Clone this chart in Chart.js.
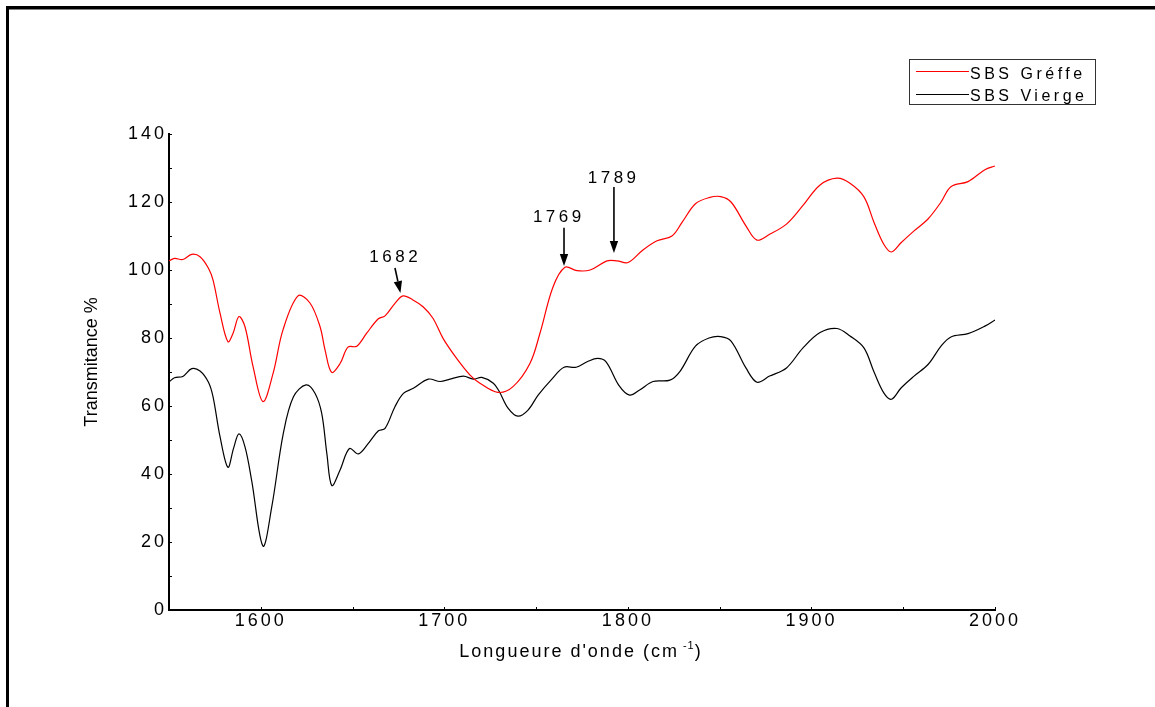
<!DOCTYPE html>
<html>
<head>
<meta charset="utf-8">
<script src="https://cdn.jsdelivr.net/npm/chart.js@4"></script>
<style>
  html, body { margin: 0; padding: 0; background: #fff; }
  #wrap { width: 1155px; height: 707px; position: relative; }
</style>
</head>
<body>
<div id="wrap"><canvas id="c" width="1155" height="707"></canvas></div>
<script>
// ---- Data ----
const wavenumbersGreffe = [1550,1553,1557.5,1562.4,1566.9,1571.5,1574,1577.8,1582.1,1584.9,1588.1,1591.4,1595.8,1601.2,1606.7,1612.1,1620.3,1626.8,1632.3,1635,1638.6,1643.2,1647.5,1652.3,1657.7,1663.9,1667.7,1673.1,1677.5,1682.9,1688.4,1693.8,1699.3,1706.7,1714,1719.4,1729.2,1737.4,1746.7,1752.1,1759.2,1765.7,1772.3,1779.4,1788.6,1794.1,1800.1,1808.2,1815.9,1824,1829.5,1836.8,1844.2,1850.6,1856.2,1864.3,1870.3,1877.2,1886.4,1895.4,1904.7,1913.9,1921,1928.6,1934.1,1939.5,1943.6,1948.8,1955.9,1963.5,1970.6,1976,1985.3,1994.5,2000];
const valuesGreffe = [102.7,103.4,103.1,104.6,103.9,100.5,97,87.3,78.9,81.4,86.3,83.3,71.6,61.3,69.6,82.4,92.4,90.3,83.3,76.5,69.9,72.5,77.3,77.6,81.4,85.6,86.5,90.2,92.4,91.2,89.2,85.8,79.9,74,69.1,66.7,64,65.7,72.6,81.4,95,100.8,99.8,100,102.7,102.7,102.2,105.9,108.6,110,114,119.5,121.3,121.6,120,113,108.8,110.5,113.5,119,125,127,125.5,121.5,114,107.5,105.3,108,111.5,115,120,124.5,126,129.5,130.6];

const wavenumbersVierge = [1550,1553,1557.5,1562.4,1566.9,1571.5,1574,1577.8,1582.1,1585.2,1588.1,1591.4,1595,1601.2,1606,1612.3,1617.8,1624.7,1629.6,1633.2,1636,1638.7,1643.2,1648.3,1653.2,1658.6,1664.1,1667.7,1673.1,1677.7,1683.1,1691.3,1697.7,1703.1,1710.4,1715.8,1720.4,1726.7,1730,1734.7,1740.1,1745.6,1751.1,1758.7,1765.2,1771.8,1777.8,1783.5,1788.1,1795.2,1800.9,1806.4,1813.7,1822.9,1828.4,1836.8,1844.2,1850.6,1856.2,1864.3,1870.3,1877.2,1886.4,1895.4,1904.7,1913.9,1921,1928.6,1934.1,1939.5,1943.6,1948.8,1955.9,1963.5,1970.6,1976,1985.3,1994.5,2000];
const valuesVierge = [67.1,68.3,68.7,71.0,70.3,67.0,62.7,51,42,47.6,51.8,48,38.2,18.8,30.4,52,62.7,66.2,63.7,57.8,46,36.6,41.2,47.5,45.9,49,52.7,53.4,59.8,63.7,65.2,67.9,67.2,67.9,68.8,67.9,68.4,66.7,64.2,59.4,57,58.8,63.2,68,71.4,71.4,73,74,73,66,63.2,64.7,67.2,67.6,70.2,77.6,80,80.4,79.1,71.2,67,68.8,71.2,77.1,81.6,82.8,80.6,77.1,70,63.8,62,65.3,68.8,72.2,77.6,80.3,81.3,83.5,85.3];

const seriesLabels = ['SBS Gréffe', 'SBS Vierge'];
const xTickValues = [1600, 1700, 1800, 1900, 2000];
const yTickValues = [0, 20, 40, 60, 80, 100, 120, 140];
const xMinorStep = 50;
const yMinorStep = 10;

// Peak annotations (data units): label, arrow tip, arrow tail, text anchor
const annotationLabels = ['1682', '1769', '1789'];
const annotationTipX   = [1676.1, 1765.2, 1792.4];
const annotationTipY   = [93.2, 101.2, 105.0];
const annotationTailX  = [1673.1, 1765.2, 1792.4];
const annotationTailY  = [100.6, 112.4, 124.4];
const annotationTextX  = [1672.3, 1761.4, 1791.3];
const annotationTextY  = [102.4, 114.1, 125.6];

const FONT = "'Liberation Sans', Arial, sans-serif";

function toPoints(xs, ys) { return xs.map((x, i) => ({ x: x, y: ys[i] })); }

const decorPlugin = {
  id: 'decor',
  beforeDraw(chart) {
    const ctx = chart.ctx;
    ctx.save();
    ctx.fillStyle = '#fff';
    ctx.fillRect(0, 0, chart.width, chart.height);
    ctx.restore();
    ctx.letterSpacing = '3px';
  },
  afterDraw(chart) {
    const ctx = chart.ctx;
    const xs = chart.scales.x, ys = chart.scales.y;
    ctx.save();
    ctx.letterSpacing = '0px';
    // outer frame (top and left thick lines)
    ctx.fillStyle = '#000';
    ctx.fillRect(6, 6, chart.width - 6, 3.5);
    ctx.fillRect(6, 6, 3, chart.height - 6);

    // minor/major tick marks, inward
    ctx.strokeStyle = '#000';
    ctx.lineWidth = 1;
    const ca = chart.chartArea;
    for (let v = ys.min; v <= ys.max; v += yMinorStep) {
      const py = Math.round(ys.getPixelForValue(v)) + 0.5;
      ctx.beginPath();
      ctx.moveTo(ca.left, py); ctx.lineTo(ca.left + 3, py);
      ctx.stroke();
    }
    for (let v = xs.min; v <= xs.max; v += xMinorStep) {
      const px = Math.round(xs.getPixelForValue(v)) + 0.5;
      ctx.beginPath();
      ctx.moveTo(px, ca.bottom); ctx.lineTo(px, ca.bottom - 3);
      ctx.stroke();
    }

    // axis titles
    ctx.fillStyle = '#000';
    const titleFont = '18px ' + FONT;
    const titleSpacing = '2px';
    ctx.font = titleFont;
    ctx.letterSpacing = titleSpacing;
    ctx.textBaseline = 'alphabetic';
    ctx.textAlign = 'left';
    const main = "Longueure d'onde (cm";
    const sup = '-1';
    const close = ')';
    const wMain = ctx.measureText(main).width;
    ctx.font = '11px ' + FONT;
    ctx.letterSpacing = '1px';
    const wSup = ctx.measureText(sup).width;
    ctx.font = titleFont;
    ctx.letterSpacing = titleSpacing;
    const wClose = ctx.measureText(close).width;
    const gap = 4;
    const total = wMain + gap + wSup + wClose;
    let tx = 581 - total / 2;
    const tBase = 657;
    ctx.fillText(main, tx, tBase);
    tx += wMain + gap;
    ctx.font = '11px ' + FONT;
    ctx.letterSpacing = '1px';
    ctx.fillText(sup, tx, tBase - 8);
    tx += wSup;
    ctx.font = titleFont;
    ctx.letterSpacing = titleSpacing;
    ctx.fillText(close, tx, tBase);

    ctx.save();
    ctx.letterSpacing = '0px';
    ctx.translate(97, 362);
    ctx.rotate(-Math.PI / 2);
    ctx.font = '18px ' + FONT;
    ctx.textAlign = 'center';
    ctx.fillText('Transmitance %', 0, 0);
    ctx.restore();

    // legend
    ctx.strokeStyle = '#333';
    ctx.lineWidth = 1;
    ctx.strokeRect(909.5, 59.5, 186, 45);
    const legendY = [71.5, 94.5];
    const legendBase = [78.5, 101];
    chart.data.datasets.forEach((ds, i) => {
      ctx.strokeStyle = ds.borderColor;
      ctx.lineWidth = 1.2;
      ctx.beginPath();
      ctx.moveTo(916, legendY[i]); ctx.lineTo(969, legendY[i]);
      ctx.stroke();
      ctx.fillStyle = '#000';
      ctx.font = '16px ' + FONT;
      ctx.letterSpacing = '3.5px';
      ctx.textAlign = 'left';
      ctx.fillText(ds.label, 970, legendBase[i]);
    });

    // annotations
    ctx.font = '17px ' + FONT;
    ctx.letterSpacing = '3.5px';
    ctx.textAlign = 'center';
    annotationLabels.forEach((lab, i) => {
      const tx2 = xs.getPixelForValue(annotationTextX[i]);
      const ty2 = ys.getPixelForValue(annotationTextY[i]);
      ctx.fillStyle = '#000';
      ctx.fillText(lab, tx2 + 1.75, ty2);
      const x1 = xs.getPixelForValue(annotationTailX[i]);
      const y1 = ys.getPixelForValue(annotationTailY[i]);
      const x2 = xs.getPixelForValue(annotationTipX[i]);
      const y2 = ys.getPixelForValue(annotationTipY[i]);
      const ang = Math.atan2(y2 - y1, x2 - x1);
      const headLen = 12, headHalf = 4.2;
      const bx = x2 - headLen * Math.cos(ang);
      const by = y2 - headLen * Math.sin(ang);
      ctx.strokeStyle = '#000';
      ctx.lineWidth = 1.6;
      ctx.beginPath();
      ctx.moveTo(x1, y1); ctx.lineTo(bx, by);
      ctx.stroke();
      ctx.beginPath();
      ctx.moveTo(x2, y2);
      ctx.lineTo(bx + headHalf * Math.sin(ang), by - headHalf * Math.cos(ang));
      ctx.lineTo(bx - headHalf * Math.sin(ang), by + headHalf * Math.cos(ang));
      ctx.closePath();
      ctx.fill();
    });
    ctx.restore();
    ctx.letterSpacing = '0px';
  }
};

new Chart(document.getElementById('c'), {
  type: 'line',
  data: {
    datasets: [
      { label: seriesLabels[0], data: toPoints(wavenumbersGreffe, valuesGreffe), borderColor: '#ff0000', borderWidth: 1.2, pointRadius: 0, tension: 0.35, fill: false },
      { label: seriesLabels[1], data: toPoints(wavenumbersVierge, valuesVierge), borderColor: '#000000', borderWidth: 1.2, pointRadius: 0, tension: 0.35, fill: false }
    ]
  },
  options: {
    responsive: false,
    animation: false,
    events: [],
    layout: { padding: { left: 0, right: 160, top: 134, bottom: 0 } },
    plugins: { legend: { display: false }, tooltip: { enabled: false } },
    scales: {
      x: {
        type: 'linear', min: 1550, max: 2000,
        afterFit(s) { s.height = 97; },
        afterBuildTicks(s) { s.ticks = xTickValues.map(v => ({ value: v })); },
        grid: { display: true, drawOnChartArea: false, drawTicks: false },
        border: { display: true, color: '#000', width: 2 },
        ticks: { color: '#000', font: { family: FONT, size: 18 }, padding: 0, maxRotation: 0, autoSkip: false, callback: v => String(v) }
      },
      y: {
        type: 'linear', min: 0, max: 140,
        afterFit(s) { s.width = 169; },
        afterBuildTicks(s) { s.ticks = yTickValues.map(v => ({ value: v })); },
        grid: { display: true, drawOnChartArea: false, drawTicks: false },
        border: { display: true, color: '#000', width: 2 },
        ticks: { color: '#000', font: { family: FONT, size: 18 }, padding: 2, callback: v => String(v) }
      }
    }
  },
  plugins: [decorPlugin]
});
</script>
</body>
</html>
